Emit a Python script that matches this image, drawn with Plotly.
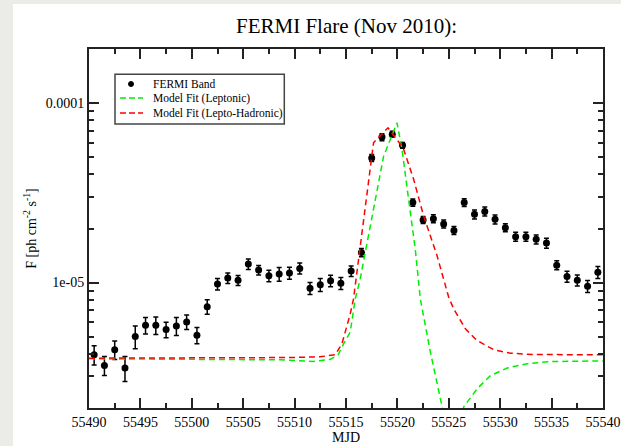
import plotly.graph_objects as go

SCALE = 1e-6

mjd = [55490.5, 55491.5, 55492.5, 55493.5, 55494.5, 55495.5, 55496.5, 55497.5, 55498.5, 55499.5,
       55500.5, 55501.5, 55502.5, 55503.5, 55504.5, 55505.5, 55506.5, 55507.5, 55508.5, 55509.5,
       55510.5, 55511.5, 55512.5, 55513.5, 55514.5, 55515.5, 55516.5, 55517.5, 55518.5, 55519.5,
       55520.5, 55521.5, 55522.5, 55523.5, 55524.5, 55525.5, 55526.5, 55527.5, 55528.5, 55529.5,
       55530.5, 55531.5, 55532.5, 55533.5, 55534.5, 55535.5, 55536.5, 55537.5, 55538.5, 55539.5]

flux = [3.96, 3.45, 4.22, 3.34, 5.00, 5.78, 5.78, 5.47, 5.73, 6.03,
        5.09, 7.34, 9.81, 10.59, 10.30, 12.67, 11.73, 10.90, 11.14, 11.29,
        11.99, 9.28, 9.72, 10.23, 9.91, 11.58, 14.70, 49.4, 64.6, 67.1,
        58.1, 27.9, 22.3, 22.7, 21.2, 19.5, 27.9, 24.0, 24.9, 22.5,
        20.2, 18.0, 18.0, 17.4, 16.6, 12.5, 10.8, 10.3, 9.53, 11.4]

flux_err = [0.49, 0.42, 0.50, 0.53, 0.73, 0.61, 0.64, 0.54, 0.66, 0.56,
            0.53, 0.68, 0.73, 0.71, 0.66, 0.85, 0.72, 0.80, 0.97, 0.87,
            0.84, 0.71, 0.81, 0.75, 0.76, 0.79, 0.79, 2.2, 2.9, 2.5,
            2.2, 1.26, 1.0, 1.16, 1.08, 0.99, 1.42, 1.39, 1.44, 1.31,
            1.03, 1.04, 1.04, 1.01, 1.06, 0.73, 0.76, 0.72, 0.73, 0.88]

lepto_x = [55490, 55508.6, 55511.8, 55513.46, 55514.24, 55514.76, 55515.41, 55515.9, 55516.38,
           55517.68, 55518.66, 55519.96, 55520.45, 55521.09, 55521.74, 55522.23, 55523.21,
           55524.35, 55525.2, 55525.7, 55526.45, 55527.76, 55529.05, 55530.68, 55532.63,
           55534.9, 55540]
lepto_y = [3.76, 3.71, 3.63, 3.73, 3.96, 4.55, 5.29, 8.1, 10.45,
           25.6, 50.6, 77.6, 55.2, 29.1, 15.3, 8.1, 4.1,
           2.03, 1.2, 1.3, 2.03, 2.56, 3.03, 3.34, 3.53,
           3.63, 3.66]

hadro_x = [55490, 55500, 55509.85, 55512.5, 55513.95, 55514.6, 55515.41, 55515.73, 55517.68,
           55519.08, 55520.55, 55521.58, 55522.55, 55523.86, 55524.99, 55525.48, 55526.62,
           55527.76, 55529.38, 55531.0, 55533.27, 55540]
hadro_y = [3.79, 3.80, 3.82, 3.86, 3.96, 4.55, 6.68, 8.1, 60.1,
           72.8, 56.4, 37.6, 23.5, 14.1, 8.28, 7.12, 5.52,
           4.75, 4.22, 4.04, 3.97, 3.96]

x_ticks = [55490, 55495, 55500, 55505, 55510, 55515, 55520, 55525, 55530, 55535, 55540]
x_tick_text = [str(v) for v in x_ticks]
y_major = [1e-5, 1e-4]
y_major_text = ["1e-05", "0.0001"]
y_minor = [m * d for d in (1e-6, 1e-5, 1e-4) for m in range(2, 10) if m * d <= 2.01e-4]

legend_names = ["FERMI Band", "Model Fit (Leptonic)", "Model Fit (Lepto-Hadronic)"]
GREEN = "#00ee00"
RED = "#ff0000"

FONT = "Liberation Serif, Times New Roman, serif"

fig = go.Figure()
fig.add_trace(go.Scatter(
    x=mjd, y=[v * SCALE for v in flux], mode="markers", name=legend_names[0],
    marker=dict(color="black", size=7, symbol="circle"),
    error_y=dict(type="data", array=[e * SCALE for e in flux_err], color="black",
                 thickness=1.5, width=2.5),
))
fig.add_trace(go.Scatter(
    x=lepto_x, y=[v * SCALE for v in lepto_y], mode="lines", name=legend_names[1],
    line=dict(color=GREEN, width=1.5, dash="6px,4px"),
))
fig.add_trace(go.Scatter(
    x=hadro_x, y=[v * SCALE for v in hadro_y], mode="lines", name=legend_names[2],
    line=dict(color=RED, width=1.5, dash="6px,4px"),
))

L, R, T, B = 89, 18, 49, 38
W, H = 621, 446
pw, ph = W - L - R, H - T - B

def px2paper_x(px):
    return (px - L) / pw

def px2paper_y(py):
    return (H - B - py) / ph

shapes = [dict(type="rect", xref="paper", yref="paper", layer="below",
               x0=px2paper_x(13), x1=px2paper_x(W + 5),
               y0=px2paper_y(H + 5), y1=px2paper_y(4),
               fillcolor="white", line=dict(width=0))]

# legend box (drawn by hand to match the compact row spacing)
shapes.append(dict(type="rect", xref="paper", yref="paper", layer="above",
                   x0=px2paper_x(115), x1=px2paper_x(284.3),
                   y0=px2paper_y(124), y1=px2paper_y(74.3),
                   fillcolor="white", line=dict(color="#444", width=1.5)))
row_y = [84, 98, 113]
shapes.append(dict(type="circle", xref="paper", yref="paper", layer="above",
                   x0=px2paper_x(128.5), x1=px2paper_x(133.5),
                   y0=px2paper_y(row_y[0] + 2.5), y1=px2paper_y(row_y[0] - 2.5),
                   fillcolor="black", line=dict(color="black", width=1)))
for ry, col in ((row_y[1], GREEN), (row_y[2], RED)):
    shapes.append(dict(type="line", xref="paper", yref="paper", layer="above",
                       x0=px2paper_x(120), x1=px2paper_x(143),
                       y0=px2paper_y(ry), y1=px2paper_y(ry),
                       line=dict(color=col, width=1.5, dash="6px,3px")))

annotations = []
for name, ry in zip(legend_names, row_y):
    annotations.append(dict(text=name, xref="paper", yref="paper",
                            x=px2paper_x(151), y=px2paper_y(ry),
                            xanchor="left", yanchor="middle", showarrow=False,
                            font=dict(size=11.5, family=FONT, color="black")))

fig.update_layout(
    width=W, height=H,
    margin=dict(l=L, r=R, t=T, b=B, autoexpand=False),
    paper_bgcolor="#ebebe7",
    plot_bgcolor="white",
    font=dict(family=FONT, color="black", size=14),
    title=dict(text="FERMI Flare (Nov 2010):", x=px2paper_x(346.5), xref="paper",
               xanchor="center", y=1 - 26 / H, yref="container", yanchor="middle",
               font=dict(size=21, family=FONT, color="black")),
    showlegend=False,
    shapes=shapes,
    annotations=annotations,
)

fig.update_xaxes(
    range=[55490, 55540], tickmode="array", tickvals=x_ticks, ticktext=x_tick_text,
    ticks="inside", ticklen=10, tickwidth=1.5, tickcolor="#222",
    minor=dict(ticks="inside", ticklen=5, tickwidth=1.5, tickcolor="#222",
               tickmode="linear", tick0=55490, dtick=2.5),
    showline=True, linecolor="#222", linewidth=2, mirror="allticks",
    showgrid=False, zeroline=False,
    tickfont=dict(size=14, family=FONT, color="black"),
    title=dict(text="MJD", font=dict(size=14, family=FONT, color="black"), standoff=2),
)
fig.update_yaxes(
    type="log", range=[-5.69897, -3.69897],
    tickmode="array", tickvals=y_major, ticktext=y_major_text,
    ticks="inside", ticklen=10, tickwidth=1.5, tickcolor="#222",
    minor=dict(ticks="inside", ticklen=5, tickwidth=1.5, tickcolor="#222",
               tickmode="array", tickvals=y_minor),
    showline=True, linecolor="#222", linewidth=2, mirror="allticks",
    showgrid=False, zeroline=False,
    tickfont=dict(size=14, family=FONT, color="black"),
    title=dict(text="F [ph cm<sup>-2</sup> s<sup>-1</sup>]",
               font=dict(size=14, family=FONT, color="black"), standoff=6),
)

fig.write_html("out.html")
